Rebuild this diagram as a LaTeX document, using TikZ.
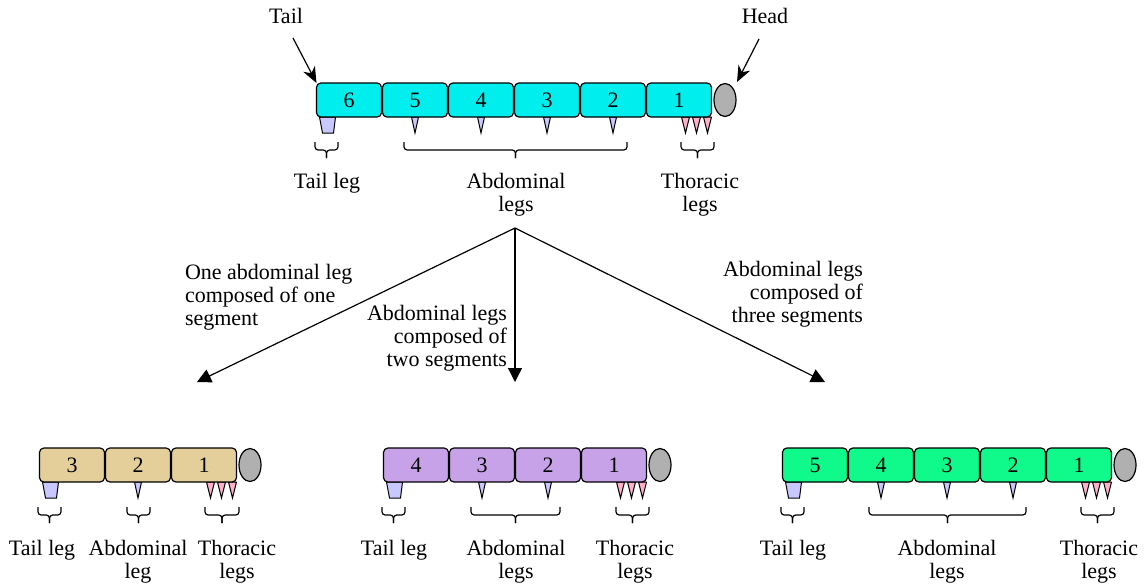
\documentclass[tikz,border=0pt]{standalone}
\usepackage{fontspec}
\setmainfont{Liberation Serif}
\usetikzlibrary{shapes.geometric,arrows.meta,calc,backgrounds}
\definecolor{cbody}{RGB}{0,238,238}
\definecolor{tbody}{RGB}{228,206,154}
\definecolor{pbody}{RGB}{200,162,232}
\definecolor{gbody}{RGB}{16,250,140}
\definecolor{headgray}{RGB}{176,176,176}
\definecolor{leglav}{RGB}{200,200,255}
\definecolor{legpink}{RGB}{255,176,200}
\tikzset{
  seg/.style={draw, line width=0.6pt, rounded corners=2.2pt, minimum width=32.5pt, minimum height=17pt, inner sep=0pt, outer sep=0pt, font=\fontsize{11}{11.5}\selectfont},
  headnode/.style={draw, line width=0.6pt, ellipse, fill=headgray, minimum width=11pt, minimum height=16.5pt, inner sep=0pt, outer sep=0pt},
  leg/.style={draw, line width=0.5pt, fill=leglav},
  tleg/.style={draw, line width=0.5pt, fill=legpink},
  brc/.style={draw, line width=0.6pt, rounded corners=1.6pt},
  lbl/.style={inner sep=0pt, outer sep=0pt, align=center, font=\fontsize{11}{11.5}\selectfont},
  arr/.style={draw, line width=0.6pt, -{Triangle[length=7pt,width=7pt]}},
  sarr/.style={draw, line width=0.6pt, -{Stealth[length=8pt,width=6.5pt,inset=2.5pt]}}
}
% downward brace from x1 to x2, top at y
\newcommand{\mybrace}[3]{%
  \draw[brc] (#1,#3) -- (#1,#3+8) -- ({(#1+#2)/2},#3+8) -- ({(#1+#2)/2},#3+16);
  \draw[brc] (#2,#3) -- (#2,#3+8) -- ({(#1+#2)/2},#3+8) -- ({(#1+#2)/2},#3+16);}
\begin{document}
\begin{tikzpicture}[x=0.5pt,y=-0.5pt]
\useasboundingbox (0,0) rectangle (1144,585);

% ---------- top caterpillar ----------
\foreach \n [count=\i from 0] in {6,5,4,3,2,1}
  \node[seg, fill=cbody] (T\n) at ({349+66*\i},100) {\n};
\node[headnode] (Thead) at (725,100) {};
\begin{scope}[on background layer]
  \filldraw[leg] ($(T6.south west)+(3,0)$) -- ++(3,16) -- ++(11,0) -- ++(2,-16) -- cycle;
  \foreach \n in {5,4,3,2}
    \filldraw[leg] ($(T\n.south)+(-3.5,0)$) -- ++(3.5,16) -- ++(3.5,-16) -- cycle;
  \foreach \d in {-30,-19,-8}
    \filldraw[tleg] ($(T1.south east)+(\d,0)$) -- ++(4,16) -- ++(4,-16) -- cycle;
\end{scope}
\mybrace{315}{338}{142}
\mybrace{404}{627}{142}
\mybrace{681}{714}{142}
\node[lbl, anchor=base] (Ttl) at (327,188) {Tail leg};
\node[lbl, anchor=base] (Tal) at (516,211) {Abdominal\\legs};
\node[lbl, anchor=base] (Tth) at (700,211) {Thoracic\\legs};

\node[lbl, anchor=base] (tailtxt) at (286,23) {Tail};
\node[lbl, anchor=base] (headtxt) at (765,23) {Head};
\coordinate (tailstart) at (293,38);
\coordinate (headstart) at (759,39);
\coordinate (headend) at (737,82);
\draw[sarr] (tailstart) -- (T6.north west);
\draw[sarr] (headstart) -- (headend);

% ---------- split arrows ----------
\coordinate (split) at (515,228);
\coordinate (e1) at (197,382);
\coordinate (e2) at (515,382);
\coordinate (e3) at (825,382);
\draw[arr] (split) -- (e1);
\draw[arr] (split) -- (e2);
\draw[arr] (split) -- (e3);
\node[lbl, align=left, anchor=base west] (d1) at (185,325) {One abdominal leg\\composed of one\\segment};
\node[lbl, align=right, anchor=base east] (d2) at (507,366) {Abdominal legs\\composed of\\two segments};
\node[lbl, align=right, anchor=base east] (d3) at (863,322) {Abdominal legs\\composed of\\three segments};

% ---------- tan caterpillar ----------
\foreach \n [count=\i from 0] in {3,2,1}
  \node[seg, fill=tbody] (A\n) at ({72+66*\i},465) {\n};
\node[headnode] (Ahead) at (250,465) {};
\begin{scope}[on background layer]
  \filldraw[leg] ($(A3.south west)+(3,0)$) -- ++(3,16) -- ++(11,0) -- ++(2,-16) -- cycle;
  \filldraw[leg] ($(A2.south)+(-3.5,0)$) -- ++(3.5,16) -- ++(3.5,-16) -- cycle;
  \foreach \d in {-30,-19,-8}
    \filldraw[tleg] ($(A1.south east)+(\d,0)$) -- ++(4,16) -- ++(4,-16) -- cycle;
\end{scope}
\mybrace{38}{61}{507}
\mybrace{127}{150}{507}
\mybrace{205}{239}{507}
\node[lbl, anchor=base] (Atl) at (42,555) {Tail leg};
\node[lbl, anchor=base] (Aal) at (138,578) {Abdominal\\leg};
\node[lbl, anchor=base] (Ath) at (237,578) {Thoracic\\legs};

% ---------- purple caterpillar ----------
\foreach \n [count=\i from 0] in {4,3,2,1}
  \node[seg, fill=pbody] (B\n) at ({416+66*\i},465) {\n};
\node[headnode] (Bhead) at (660,465) {};
\begin{scope}[on background layer]
  \filldraw[leg] ($(B4.south west)+(3,0)$) -- ++(3,16) -- ++(11,0) -- ++(2,-16) -- cycle;
  \foreach \n in {3,2}
    \filldraw[leg] ($(B\n.south)+(-3.5,0)$) -- ++(3.5,16) -- ++(3.5,-16) -- cycle;
  \foreach \d in {-30,-19,-8}
    \filldraw[tleg] ($(B1.south east)+(\d,0)$) -- ++(4,16) -- ++(4,-16) -- cycle;
\end{scope}
\mybrace{382}{405}{507}
\mybrace{471}{560}{507}
\mybrace{616}{649}{507}
\node[lbl, anchor=base] (Btl) at (394,555) {Tail leg};
\node[lbl, anchor=base] (Bal) at (516,578) {Abdominal\\legs};
\node[lbl, anchor=base] (Bth) at (635,578) {Thoracic\\legs};

% ---------- green caterpillar ----------
\foreach \n [count=\i from 0] in {5,4,3,2,1}
  \node[seg, fill=gbody] (C\n) at ({815+66*\i},465) {\n};
\node[headnode] (Chead) at (1125,465) {};
\begin{scope}[on background layer]
  \filldraw[leg] ($(C5.south west)+(3,0)$) -- ++(3,16) -- ++(11,0) -- ++(2,-16) -- cycle;
  \foreach \n in {4,3,2}
    \filldraw[leg] ($(C\n.south)+(-3.5,0)$) -- ++(3.5,16) -- ++(3.5,-16) -- cycle;
  \foreach \d in {-30,-19,-8}
    \filldraw[tleg] ($(C1.south east)+(\d,0)$) -- ++(4,16) -- ++(4,-16) -- cycle;
\end{scope}
\mybrace{781}{804}{507}
\mybrace{869}{1026}{507}
\mybrace{1081}{1114}{507}
\node[lbl, anchor=base] (Ctl) at (793,555) {Tail leg};
\node[lbl, anchor=base] (Cal) at (947,578) {Abdominal\\legs};
\node[lbl, anchor=base] (Cth) at (1099,578) {Thoracic\\legs};
\end{tikzpicture}
\end{document}
